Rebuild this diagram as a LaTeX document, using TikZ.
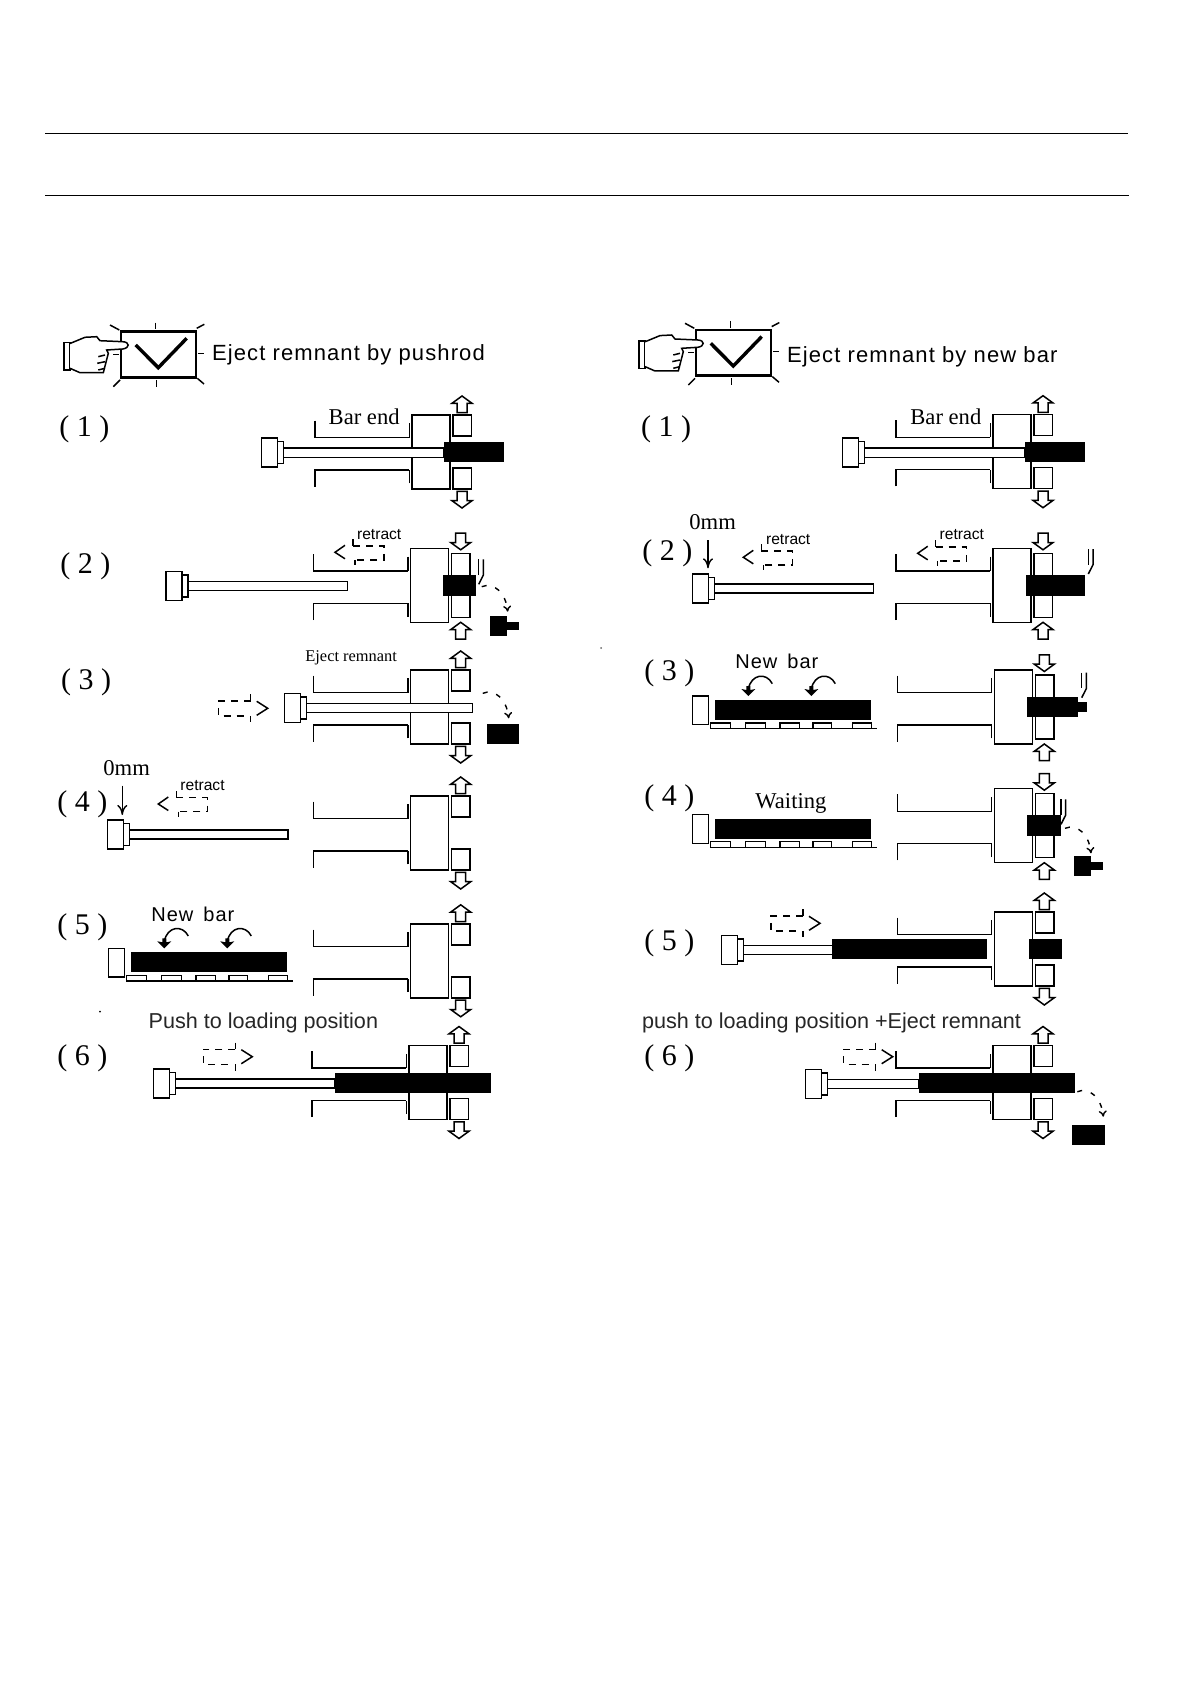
\documentclass[tikz,border=0pt]{standalone}
\usepackage{fontspec}
\usepackage{xcolor}
\usetikzlibrary{arrows.meta}
\setmainfont{Liberation Serif}
\setsansfont{Liberation Sans}
\newfontfamily\widesans[LetterSpace=5]{Liberation Sans}
\tikzset{
stepnum/.style={inner sep=0pt, anchor=west, font=\rmfamily\fontsize{15}{15}\selectfont},
serifnote/.style={inner sep=0pt, anchor=west, font=\rmfamily\fontsize{11.3}{12}\selectfont},
widenote/.style={inner sep=0pt, anchor=west, font=\widesans\fontsize{11}{12}\selectfont},
sansnote/.style={inner sep=0pt, anchor=west, font=\sffamily\fontsize{10.8}{12}\selectfont, text=black!85},
smallnote/.style={inner sep=0pt, anchor=west, font=\sffamily\fontsize{7.8}{8}\selectfont},
part/.style={draw=black, line width=0.75pt},
solidbar/.style={fill=black, draw=black, line width=0.3pt},
dashpath/.style={draw=black, line width=0.7pt, dash pattern=on 3.5pt off 3pt},
}
\newcommand{\frameparts}{
\draw[part] (-97,-31.3) -- (-97,-14.3) -- (-2.7,-14.3);
\draw[part] (-2.7,-28.7) -- (-2.7,-14.3);
\draw[part] (-97,34.7) -- (-97,18) -- (-2.7,18);
\draw[part] (-2.7,31.3) -- (-2.7,18);
\draw[part] (0,-37) rectangle (38,37);
}
\newcommand{\blockarrow}[3]{
\begin{scope}[shift={(#1,#2)}, yscale=#3]
\draw[part, fill=white] (0,0) -- (10,7.3) -- (5,7.3) -- (5,16.7) -- (-5,16.7) -- (-5,7.3) -- (-10,7.3) -- cycle;
\end{scope}
}
\newcommand{\machineopen}[2]{
\begin{scope}[shift={(#1,#2)}]
\frameparts
\draw[part] (41,-37) rectangle (59.5,-16);
\draw[part] (41,16) rectangle (59.5,37);
\blockarrow{50}{-56}{1}
\blockarrow{50}{56}{-1}
\end{scope}
}
\newcommand{\machineclosed}[2]{
\begin{scope}[shift={(#1,#2)}]
\frameparts
\draw[part] (41,-32) rectangle (59.5,32);
\blockarrow{50}{-35.5}{-1}
\blockarrow{50}{37}{1}
\end{scope}
}
\newcommand{\pushrod}[3]{
\begin{scope}[shift={(#1,#2)}]
\draw[part, fill=white] (22,-4.7) rectangle (#3,4.7);
\draw[part, fill=white] (16,-11) rectangle (22,11);
\draw[part, fill=white] (0,-14.5) rectangle (16,14.5);
\end{scope}
}
\newcommand{\retractarrow}[2]{
\begin{scope}[shift={(#1,#2)}]
\draw[part] (10,-7) -- (0,0) -- (10,6.5);
\draw[part] (18,-13) -- (18,-6.5);
\draw[dashpath] (18,-6.5) -- (49,-6.5) -- (49,7.5) -- (20,7.5);
\draw[part] (20,7.5) -- (20,13);
\end{scope}
}
\newcommand{\pusharrow}[2]{
\begin{scope}[shift={(#1,#2)}]
\draw[part] (-11,-7) -- (0,0) -- (-11,7);
\draw[part] (-17,-14) -- (-17,-7.5);
\draw[dashpath] (-17,-7.5) -- (-49,-7.5) -- (-49,7.5) -- (-19,7.5);
\draw[part] (-17,7.5) -- (-17,14);
\end{scope}
}
\newcommand{\cutter}[2]{
\begin{scope}[shift={(#1,#2)}]
\draw[part] (0,0) -- (0,15.7);
\draw[part] (4.7,0) -- (4.7,15.7) -- (0,25);
\end{scope}
}
\newcommand{\dropcurve}[2]{
\begin{scope}[shift={(#1,#2)}]
\draw[line width=0.7pt, dash pattern=on 2.5pt off 4.5pt, -{To[length=3pt,width=4pt]}] (0,0) .. controls (12,-5) and (24,6) .. (26,25);
\end{scope}
}
\newcommand{\offcut}[2]{
\fill[black] (#1,#2) rectangle ++(17.3,20.3);
\fill[black] (#1+17,#2+6) rectangle ++(12.3,8.3);
}
\newcommand{\curlarrow}[2]{
\begin{scope}[shift={(#1,#2)}]
\draw[part] (24,-12.3) .. controls (18,-24) and (3,-22) .. (0,-7);
\fill[black] (0,0) -- (7,-7) -- (2,-6) -- (2,-10) -- (-2,-10) -- (-2,-6) -- (-7,-7) -- cycle;
\end{scope}
}
\newcommand{\feedtable}[2]{
\begin{scope}[shift={(#1,#2)}]
\draw[part] (-22.3,-4) rectangle (-6.7,24.7);
\fill[black] (0,0) rectangle (155.7,20);
\draw[part] (-4.3,28.7) -- (161.7,28.7);
\draw[part] (-4.3,23) rectangle (15.7,28.7);
\draw[part] (30.7,23) rectangle (50.3,28.7);
\draw[part] (65,23) rectangle (84.7,28.7);
\draw[part] (98,23) rectangle (116.3,28.7);
\draw[part] (137.3,23) rectangle (156.7,28.7);
\end{scope}
}
\newcommand{\pressbutton}[2]{
\begin{scope}[shift={(#1,#2)}]
\draw[black, line width=1.3pt] (121,331.7) rectangle (196,377.3);
\draw[black, line width=1.7pt] (135.7,345) -- (158.3,367.7) -- (186.7,338.3);
\draw[part] (155.7,322.7) -- (155.7,329.3);
\draw[part] (156.7,380) -- (156.7,386.7);
\draw[part] (113.3,354.3) -- (119.3,354.3);
\draw[part] (198.3,353.3) -- (204.3,353.3);
\draw[part] (110,325) -- (119.3,330);
\draw[part] (196.7,328.3) -- (204.3,324.3);
\draw[part] (113.3,386.7) -- (120,380);
\draw[part] (197.3,378.3) -- (204,384);
\draw[part] (64,342.7) rectangle (70,370);
\draw[part, fill=white] (70,343.5) -- (85,337.3) -- (96.7,336.7) -- (100,340.7) -- (122.7,341.7) .. controls (130,342) and (130,348) .. (122.7,349) -- (106.7,350) -- (108.3,353.3) -- (103.3,372.7) -- (80,372.7) -- (70,368.3);
\draw[part] (98.3,356.7) -- (105,355);
\draw[part] (97.3,363.3) -- (105,361.7);
\draw[part] (98.3,370) -- (105,368.3);
\end{scope}
}
\begin{document}
\begin{tikzpicture}[x=0.5pt, y=-0.5pt]
\useasboundingbox (0,0) rectangle (1190,1684);
\draw[black, line width=0.6pt] (45,133.5) -- (1128,133.5);
\draw[black, line width=0.6pt] (45,195.5) -- (1129,195.5);
\fill[black] (100,1011.7) circle (1);
\fill[black!60] (601,648) circle (1);

\pressbutton{0}{0}
\node[widenote] (Lhead) at (211.7,355) {Eject remnant by pushrod};
\pressbutton{575}{-1.7}
\node[widenote] (Rhead) at (786.7,356.7) {Eject remnant by new bar};

\node[stepnum] (L1num) at (59,429) {( 1 )};
\machineopen{412}{452}
\pushrod{261.7}{452.7}{182.3}
\fill[black] (444,441.7) rectangle (504.3,462.3);
\node[serifnote] (L1bar) at (328.3,416.7) {Bar end};

\node[stepnum] (L2num) at (60,566) {( 2 )};
\machineclosed{410.7}{585.3}
\pushrod{166}{586}{181.7}
\fill[black] (443.3,575) rectangle (476,595.7);
\cutter{478.7}{559.3}
\dropcurve{481.7}{586.7}
\offcut{490}{615.7}
\retractarrow{335}{552.3}
\node[smallnote] (L2back) at (356.7,535) {retract};

\node[stepnum] (L3num) at (60.7,682) {( 3 )};
\machineopen{410.7}{707}
\pushrod{284.3}{708}{188.4}
\dropcurve{482.7}{693.3}
\fill[black] (487,724) rectangle (519.3,744.3);
\pusharrow{267.7}{708.3}
\node[serifnote, font=\rmfamily\fontsize{8.2}{9}\selectfont] (L3eject) at (305,658.3) {Eject remnant};

\node[stepnum] (L4num) at (57,804) {( 4 )};
\machineopen{410.7}{833}
\pushrod{107.3}{834.5}{180.7}
\retractarrow{158.3}{804}
\node[smallnote] (L4back) at (180,786) {retract};
\node[serifnote] (L4zero) at (103,768) {0mm};
\coordinate (L4top) at (122.3,785.7);
\coordinate (L4head) at (122.3,815);
\draw[line width=0.7pt, -{To[length=5pt,width=5pt]}] (L4top) -- (L4head);

\node[stepnum] (L5num) at (57,927) {( 5 )};
\machineopen{410.7}{960.8}
\feedtable{131}{952.3}
\curlarrow{164.3}{948.3}
\curlarrow{227.3}{948.3}
\node[widenote, font=\widesans\fontsize{10}{12}\selectfont] (L5new) at (151,914) {New\hspace{5pt}bar};

\node[stepnum] (L6num) at (57,1058) {( 6 )};
\machineopen{409}{1082.5}
\pushrod{153.7}{1083.5}{181.3}
\fill[black] (335,1072.7) rectangle (491,1093.3);
\pusharrow{252.3}{1056.7}
\node[sansnote] (L6push) at (148.3,1022.7) {Push to loading position};

\node[stepnum] (R1num) at (640.7,429) {( 1 )};
\machineopen{993}{451.7}
\pushrod{842.7}{452.7}{182.3}
\fill[black] (1025.3,441.7) rectangle (1085.3,462.3);
\node[serifnote] (R1bar) at (910,416.7) {Bar end};

\node[stepnum] (R2num) at (642,553.3) {( 2 )};
\machineclosed{993}{585.3}
\pushrod{692.7}{588.5}{180.6}
\fill[black] (1025.7,575) rectangle (1085.3,595.7);
\cutter{1088.3}{549}
\retractarrow{917.7}{553.3}
\node[smallnote] (R2back) at (939.3,535) {retract};
\retractarrow{743.3}{557.3}
\node[smallnote] (R2rod) at (765.7,539.3) {retract};
\node[serifnote] (R2zero) at (689,522.3) {0mm};
\coordinate (R2top) at (708,540);
\coordinate (R2head) at (708,568.3);
\draw[line width=0.7pt, -{To[length=5pt,width=5pt]}] (R2top) -- (R2head);

\node[stepnum] (R3num) at (644,673.3) {( 3 )};
\machineclosed{994.3}{707}
\fill[black] (1027.3,696.7) rectangle (1078.3,717.3);
\fill[black] (1078,702.3) rectangle (1087.3,711.7);
\cutter{1081.7}{672.7}
\feedtable{715}{700}
\curlarrow{748.3}{696}
\curlarrow{811.3}{696}
\node[widenote, font=\widesans\fontsize{10}{12}\selectfont] (R3new) at (735,661.7) {New\hspace{5pt}bar};

\node[stepnum] (R4num) at (644,798.3) {( 4 )};
\machineclosed{994.3}{825.7}
\fill[black] (1027.3,815) rectangle (1060.7,836);
\cutter{1061}{799.3}
\dropcurve{1065}{828.3}
\offcut{1074}{856}
\feedtable{715}{818.7}
\node[serifnote] (R4wait) at (755,803.3) {Waiting};

\node[stepnum] (R5num) at (644,943.3) {( 5 )};
\machineopen{994.3}{949}
\pushrod{721.3}{950}{130}
\fill[black] (831.7,938.7) rectangle (986.7,959.3);
\fill[black] (1029,938.7) rectangle (1061.7,959.3);
\pusharrow{820}{923.3}

\node[stepnum] (R6num) at (644,1058) {( 6 )};
\machineopen{993}{1082.5}
\pushrod{805.3}{1084}{113.7}
\fill[black] (919,1072.7) rectangle (1075,1093.3);
\pusharrow{892.7}{1056.7}
\dropcurve{1077.3}{1091.7}
\fill[black] (1072.3,1125) rectangle (1105,1145.3);
\node[sansnote] (R6push) at (641.7,1023.3) {push to loading position +Eject remnant};
\end{tikzpicture}
\end{document}
